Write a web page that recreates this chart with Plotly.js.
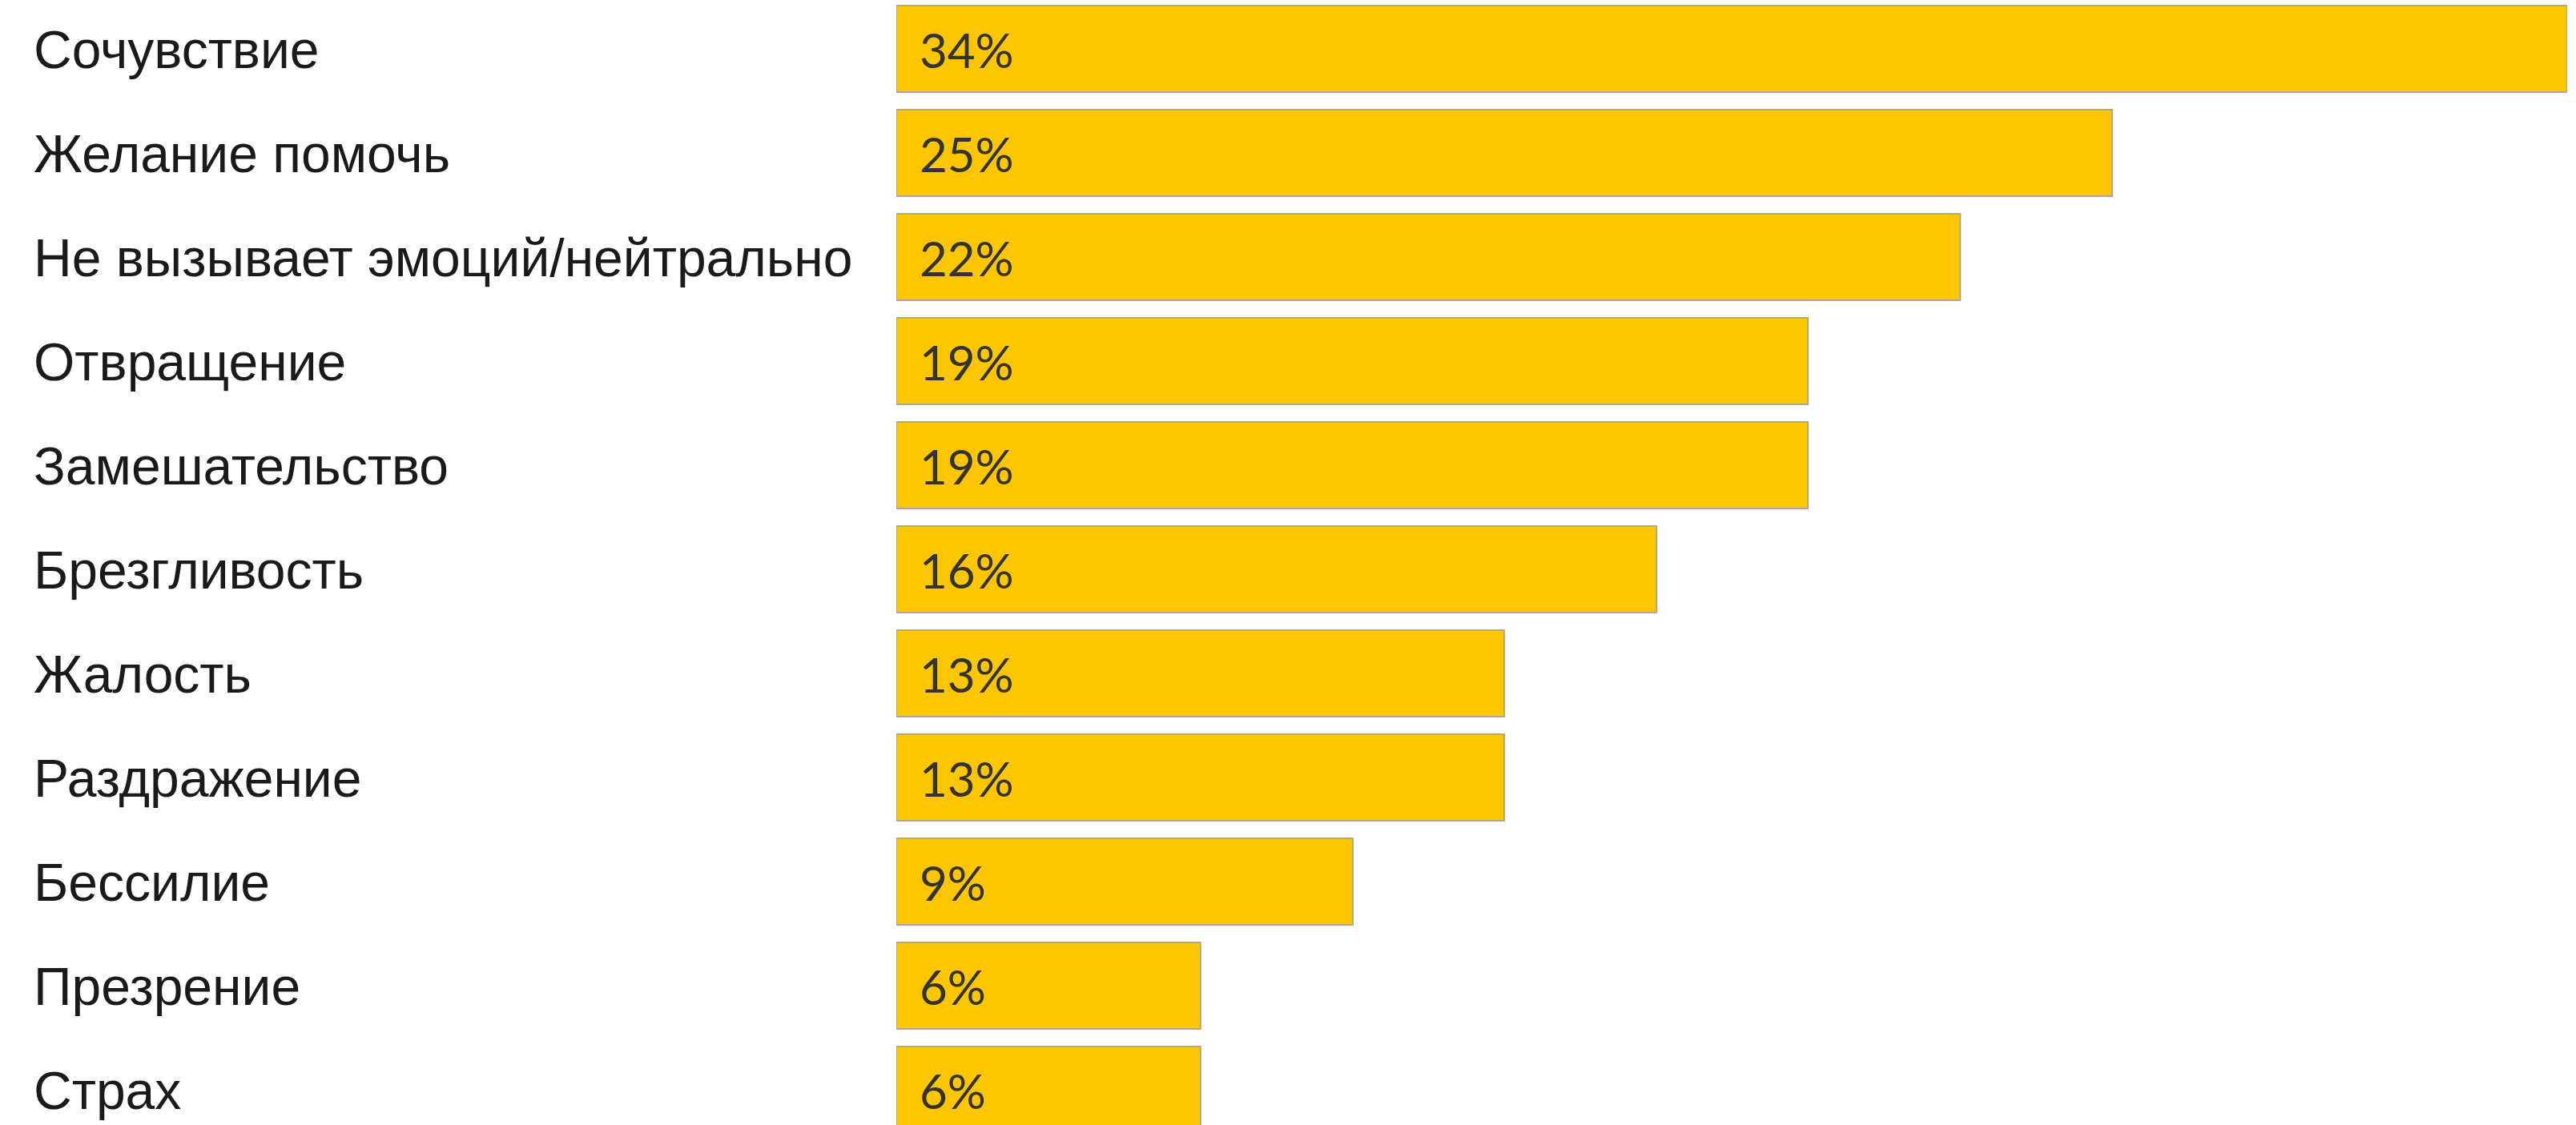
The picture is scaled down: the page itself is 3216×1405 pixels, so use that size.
<!DOCTYPE html>
<html>
<head>
<meta charset="utf-8">
<script src="https://cdn.plot.ly/plotly-3.0.1.min.js"></script>
<style>
html,body{margin:0;padding:0;background:#fff;}
#chart{width:3216px;height:1405px;}
</style>
</head>
<body>
<div id="chart"></div>
<script>
const categories = [
  "Сочувствие",
  "Желание помочь",
  "Не вызывает эмоций/нейтрально",
  "Отвращение",
  "Замешательство",
  "Брезгливость",
  "Жалость",
  "Раздражение",
  "Бессилие",
  "Презрение",
  "Страх"
];
// bar lengths (percent)
const values = [34.0, 24.74, 21.65, 18.55, 18.55, 15.47, 12.37, 12.37, 9.29, 6.19, 6.19];
// labels printed on the bars
const pctLabels = ["34%", "25%", "22%", "19%", "19%", "16%", "13%", "13%", "9%", "6%", "6%"];

const W = 3216, H = 1405;
const ml = 1119, mr = 11;
const plotW = W - ml - mr;

const trace = {
  type: 'bar',
  orientation: 'h',
  y: categories,
  x: values,
  marker: {
    color: '#FDC600',
    line: {color: 'rgba(170,160,140,0.9)', width: 2}
  },
  hoverinfo: 'none'
};

const annotations = [];
categories.forEach((c, i) => {
  annotations.push({
    xref: 'paper', yref: 'y',
    x: -(ml - 40) / plotW, y: c, yshift: -1,
    xanchor: 'left', yanchor: 'middle',
    text: c, showarrow: false,
    font: {family: 'Liberation Sans, Arial, sans-serif', size: 66, color: '#1a1a1a'}
  });
  annotations.push({
    xref: 'x', yref: 'y',
    x: 0, y: c, xshift: 27, yshift: -1,
    xanchor: 'left', yanchor: 'middle',
    text: pctLabels[i], showarrow: false,
    font: {family: 'Lato, Open Sans, sans-serif', size: 60, color: '#333333'}
  });
});

const layout = {
  width: W, height: H,
  margin: {l: ml, r: mr, t: 0, b: 0, pad: 0},
  paper_bgcolor: '#ffffff',
  plot_bgcolor: '#ffffff',
  showlegend: false,
  bargap: 0.169,
  xaxis: {range: [0, 34], visible: false, showgrid: false, zeroline: false, fixedrange: true},
  yaxis: {
    type: 'category',
    categoryorder: 'array', categoryarray: categories,
    range: [10.338, -0.469],
    showticklabels: false, showgrid: false, zeroline: false, ticks: '', fixedrange: true
  },
  annotations: annotations
};

Plotly.newPlot('chart', [trace], layout, {displayModeBar: false, staticPlot: true});
</script>
</body>
</html>
